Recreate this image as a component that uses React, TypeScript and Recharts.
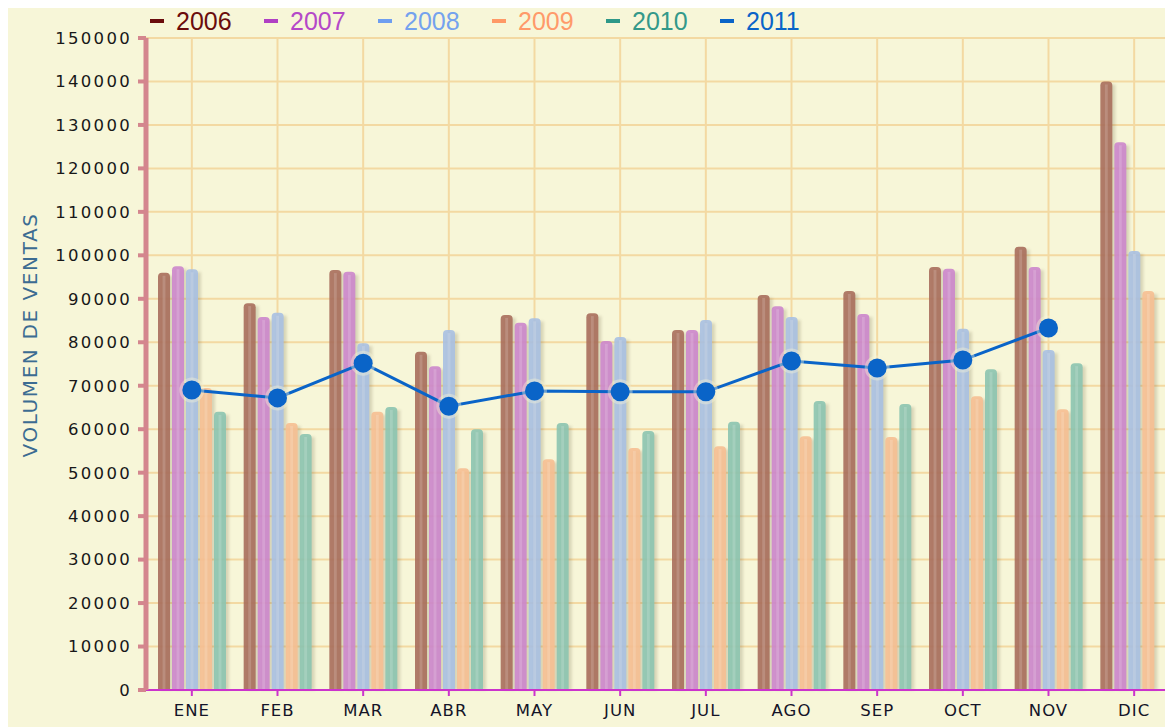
import React from "react";
import {
  ComposedChart,
  Bar,
  Line,
  XAxis,
  YAxis,
  CartesianGrid,
  Label,
} from "recharts";

// ── Data ──────────────────────────────────────────────────────────────

const months = ["ENE", "FEB", "MAR", "ABR", "MAY", "JUN", "JUL", "AGO", "SEP", "OCT", "NOV", "DIC"];

const v2006 = [96000, 89000, 96600, 77800, 86300, 86700, 82800, 90900, 91800, 97300, 102000, 140000];
const v2007 = [97500, 85800, 96200, 74500, 84500, 80300, 82800, 88300, 86500, 96900, 97300, 126000];
const v2008 = [96800, 86800, 79800, 82800, 85500, 81200, 85100, 85800, 74000, 83100, 78200, 101000];
const v2009 = [69500, 61400, 64000, 51000, 53100, 55700, 56100, 58400, 58200, 67600, 64600, 91800];
const v2010 = [64000, 58900, 65100, 60000, 61400, 59600, 61700, 66500, 65800, 73800, 75200, null];
const v2011 = [69000, 67200, 75200, 65300, 68800, 68600, 68600, 75700, 74100, 75900, 83300, null];

const yTicks = [
  0, 10000, 20000, 30000, 40000, 50000, 60000, 70000,
  80000, 90000, 100000, 110000, 120000, 130000, 140000, 150000,
];

const rows = months.map((m, i) => ({
  m,
  y2006: v2006[i],
  y2007: v2007[i],
  y2008: v2008[i],
  y2009: v2009[i],
  y2010: v2010[i],
  y2011: v2011[i],
}));

// ── Styles ────────────────────────────────────────────────────────────

const BG = "#F7F6D8";
const GRID = "#F3D9A2";
const LINE_BLUE = "#0A64C8";

const barSeries = [
  { key: "y2006", fill: "#A86E5C" },
  { key: "y2007", fill: "#CC86CC" },
  { key: "y2008", fill: "#A8C0E2" },
  { key: "y2009", fill: "#F6BF92" },
  { key: "y2010", fill: "#8CC4B0" },
];

const legendItems = [
  { label: "2006", dash: "#6A0C0C", text: "#6A0C0C" },
  { label: "2007", dash: "#B040C4", text: "#B448C8" },
  { label: "2008", dash: "#6E9EF0", text: "#74A2EE" },
  { label: "2009", dash: "#FF9966", text: "#FF9A6A" },
  { label: "2010", dash: "#2E9888", text: "#33998A" },
  { label: "2011", dash: "#0A64C8", text: "#0A64C8" },
];

// ── Custom bar (rounded top, soft shadow, glassy stripe) ──────────────

function GlassBar(props: any) {
  const { x, y, width, height, fill } = props;
  if (height == null || height <= 0) return <g />;
  const r = Math.min(4, width / 2);
  const d = `M${x},${y + height} L${x},${y + r} Q${x},${y} ${x + r},${y} L${x + width - r},${y} Q${x + width},${y} ${x + width},${y + r} L${x + width},${y + height} Z`;
  return (
    <g>
      <rect x={x + 3} y={y + 3} width={width} height={height - 3} fill="#5a5030" opacity={0.2} filter="url(#barShadow)" />
      <path d={d} fill={fill} fillOpacity={0.9} />
      <rect x={x + width * 0.38} y={y + 3} width={width * 0.24} height={Math.max(0, height - 3)} fill="#ffffff" opacity={0.16} />
    </g>
  );
}

// ── Custom dot for 2011 line ──────────────────────────────────────────

function BlueDot(props: any) {
  const { cx, cy, value } = props;
  if (cx == null || cy == null || value == null) return <g />;
  return (
    <g>
      <circle cx={cx} cy={cy} r={12.5} fill={BG} fillOpacity={0.4} />
      <circle cx={cx} cy={cy} r={9.5} fill={LINE_BLUE} />
    </g>
  );
}

// ── Main component ────────────────────────────────────────────────────

export default function App() {
  return (
    <div style={{
      position: "relative",
      width: 1165,
      height: 719,
      overflow: "hidden",
      background: BG,
      fontFamily: "'DejaVu Sans', sans-serif",
    }}>
      {/* ── Legend ─────────────────────────────────────────────── */}
      <div style={{ position: "absolute", left: 142, top: 0, height: 26, display: "flex", zIndex: 2 }}>
        {legendItems.map(({ label, dash, text }) => (
          <div key={label} style={{ width: 114, display: "flex", alignItems: "center" }}>
            <span style={{ display: "inline-block", width: 14, height: 4, background: dash, marginRight: 12 }} />
            <span style={{
              fontFamily: "'Liberation Sans Narrow', 'Liberation Sans', Arial, sans-serif",
              fontSize: 25,
              lineHeight: "26px",
              color: text,
            }}>
              {label}
            </span>
          </div>
        ))}
      </div>

      <ComposedChart
        width={1169}
        height={719}
        data={rows}
        margin={{ top: 30, right: 0, bottom: 7, left: 0 }}
        barSize={12}
        barGap={2}
      >
        <defs>
          <filter id="barShadow" x="-50%" y="-10%" width="200%" height="120%">
            <feGaussianBlur stdDeviation="1.5" />
          </filter>
        </defs>

        <CartesianGrid stroke={GRID} strokeWidth={2} vertical horizontal />

        <XAxis
          dataKey="m"
          type="category"
          padding={{ left: 3, right: 0 }}
          height={30}
          axisLine={{ stroke: "#CC33CC", strokeWidth: 2 }}
          tickLine={{ stroke: "#CC33CC", strokeWidth: 2 }}
          tickSize={6}
          tickMargin={8}
          tick={{ fontSize: 16.5, fill: "#141428", letterSpacing: 1 }}
        />

        <YAxis
          type="number"
          domain={[0, 150000]}
          ticks={yTicks}
          interval={0}
          width={138}
          axisLine={{ stroke: "#D4868E", strokeWidth: 5 }}
          tickLine={{ stroke: "#D4868E", strokeWidth: 4 }}
          tickSize={8}
          tickMargin={6}
          tick={{ fontSize: 16.5, fill: "#181818", letterSpacing: 2.3 }}
        >
          <Label
            content={() => (
              <text
                x={29}
                y={327}
                transform="rotate(-90 29 327)"
                textAnchor="middle"
                fontSize={20}
                fill="#3C6C92"
                letterSpacing={1.6}
              >
                VOLUMEN DE VENTAS
              </text>
            )}
          />
        </YAxis>

        {barSeries.map(({ key, fill }) => (
          <Bar
            key={key}
            dataKey={key}
            fill={fill}
            shape={(p: any) => <GlassBar {...p} fill={fill} />}
            isAnimationActive={false}
          />
        ))}

        <Line
          dataKey="y2011"
          type="linear"
          stroke={LINE_BLUE}
          strokeWidth={3}
          dot={(p: any) => <BlueDot key={p.index} {...p} />}
          activeDot={false}
          connectNulls={false}
          isAnimationActive={false}
        />
      </ComposedChart>
    </div>
  );
}
